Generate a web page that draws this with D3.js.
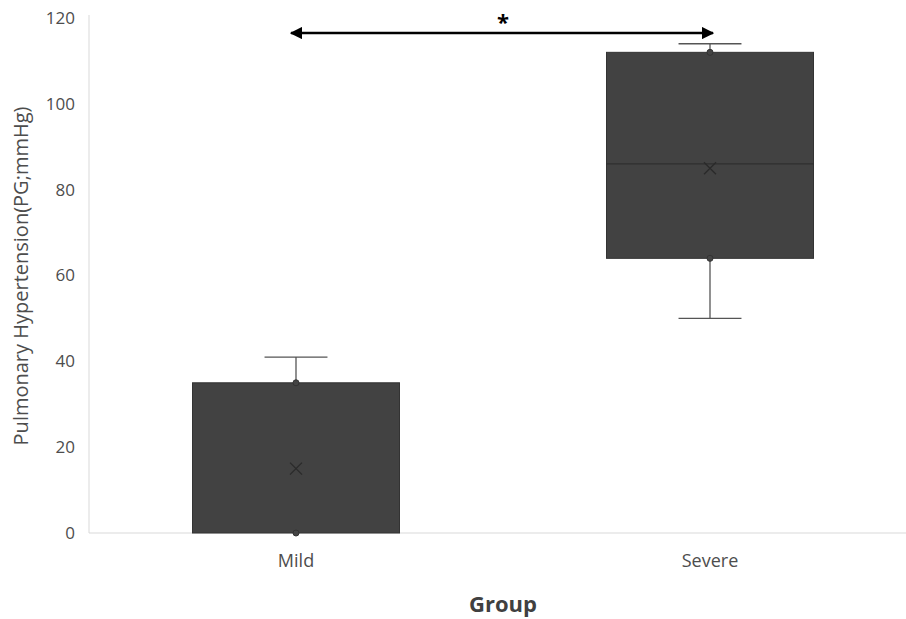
<!DOCTYPE html>
<html>
<head>
<meta charset="utf-8">
<script src="https://cdn.jsdelivr.net/npm/d3@7"></script>
<style>
  body { margin: 0; background: #fff; }
  text { font-family: "Open Sans", "Liberation Sans", sans-serif; }
</style>
</head>
<body>
<svg id="chart" width="906" height="619"></svg>
<script>
// data
const groups = ["Mild", "Severe"];
const whiskerLow = [0, 50];
const q1 = [0, 64];
const median = [0, 86];
const q3 = [35, 112];
const whiskerHigh = [41, 114];
const means = [15, 85];
const points = [[0, 35], [64, 112]];
const yTicks = [0, 20, 40, 60, 80, 100, 120];

const width = 906, height = 619;
const margin = {top: 18, right: -11, bottom: 86, left: 89};

const svg = d3.select("#chart");

const x = d3.scaleBand()
  .domain(groups)
  .range([margin.left, width - margin.right]);

const y = d3.scaleLinear()
  .domain([0, 120])
  .range([height - margin.bottom, margin.top]);

const boxW = x.bandwidth() * 0.5;
const capW = x.bandwidth() * 0.076;
const cx = g => x(g) + x.bandwidth() / 2;

// axes
const yAxis = g => g
  .attr("transform", "translate(" + margin.left + ",0)")
  .call(d3.axisLeft(y).tickValues(yTicks).tickSize(0).tickPadding(14))
  .call(g => g.select(".domain").attr("stroke", "#d9d9d9").attr("d", "M0," + (margin.top - 3) + "V" + y(0)))
  .call(g => g.selectAll(".tick text").attr("font-size", 17));
const xAxis = g => g
  .attr("transform", "translate(0," + y(0) + ")")
  .call(d3.axisBottom(x).tickSize(0).tickPadding(21))
  .call(g => g.select(".domain").attr("stroke", "#d9d9d9").attr("d", "M" + margin.left + ",0H" + width))
  .call(g => g.selectAll(".tick text").attr("font-size", 18));

svg.append("g").call(yAxis);
svg.append("g").call(xAxis);
svg.selectAll(".tick text").attr("fill", "#4d4d4d")
  .attr("font-family", "'Open Sans', sans-serif");

const data = groups.map((g, i) => ({g, lo: whiskerLow[i], q1: q1[i], med: median[i], q3: q3[i], hi: whiskerHigh[i], mean: means[i], pts: points[i]}));

const box = svg.append("g").selectAll("g").data(data).join("g");

// whiskers
box.append("line")
  .attr("x1", d => cx(d.g)).attr("x2", d => cx(d.g))
  .attr("y1", d => y(d.lo)).attr("y2", d => y(d.hi))
  .attr("stroke", "#555").attr("stroke-width", 1.3);
box.selectAll(".cap").data(d => [d.lo, d.hi].filter(v => v !== d.q1).map(v => ({g: d.g, v}))).join("line")
  .attr("x1", d => cx(d.g) - capW).attr("x2", d => cx(d.g) + capW)
  .attr("y1", d => y(d.v)).attr("y2", d => y(d.v))
  .attr("stroke", "#555").attr("stroke-width", 1.3);

// boxes
box.append("rect")
  .attr("x", d => cx(d.g) - boxW / 2).attr("width", boxW)
  .attr("y", d => y(d.q3)).attr("height", d => y(d.q1) - y(d.q3))
  .attr("fill", "#424242").attr("stroke", "#333").attr("stroke-width", 1);

// median
box.filter(d => d.med > d.q1).append("line")
  .attr("x1", d => cx(d.g) - boxW / 2).attr("x2", d => cx(d.g) + boxW / 2)
  .attr("y1", d => y(d.med)).attr("y2", d => y(d.med))
  .attr("stroke", "#2a2a2a").attr("stroke-width", 1);

// mean marker
box.append("path")
  .attr("transform", d => "translate(" + cx(d.g) + "," + y(d.mean) + ")")
  .attr("d", "M-6,-6L6,6M-6,6L6,-6")
  .attr("stroke", "#2a2a2a").attr("stroke-width", 1.3).attr("fill", "none");

// points
box.selectAll("circle").data(d => d.pts.map(v => ({g: d.g, v}))).join("circle")
  .attr("cx", d => cx(d.g)).attr("cy", d => y(d.v)).attr("r", 3)
  .attr("fill", "#444").attr("stroke", "#333");

// significance arrow
const defs = svg.append("defs");
defs.append("marker").attr("id", "head").attr("viewBox", "0 0 10 10")
  .attr("refX", 9).attr("refY", 5).attr("markerWidth", 5).attr("markerHeight", 5)
  .attr("orient", "auto-start-reverse")
  .append("path").attr("d", "M0,0L10,5L0,10Z").attr("fill", "#000");

const sigY = y(116.5);
svg.append("line")
  .attr("x1", cx("Mild") - 5).attr("x2", cx("Severe") + 3)
  .attr("y1", sigY).attr("y2", sigY)
  .attr("stroke", "#000").attr("stroke-width", 2.5)
  .attr("marker-start", "url(#head)").attr("marker-end", "url(#head)");
svg.append("text")
  .attr("x", (cx("Mild") + cx("Severe")) / 2).attr("y", sigY - 3)
  .attr("text-anchor", "middle").attr("font-size", 22).attr("font-weight", "bold")
  .text("*");

// axis titles
svg.append("text")
  .attr("transform", "translate(28,276) rotate(-90)")
  .attr("text-anchor", "middle").attr("fill", "#4d4d4d").attr("font-size", 20)
  .text("Pulmonary Hypertension(PG;mmHg)");
svg.append("text")
  .attr("x", 503).attr("y", 612)
  .attr("text-anchor", "middle").attr("fill", "#404040").attr("font-size", 22).attr("font-weight", "bold")
  .text("Group");
</script>
</body>
</html>
